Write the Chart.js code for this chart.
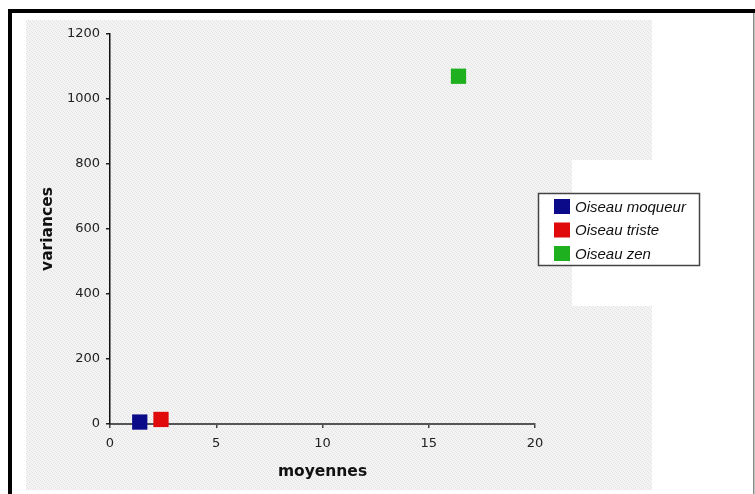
<!DOCTYPE html>
<html>
<head>
<meta charset="utf-8">
<script src="https://cdn.jsdelivr.net/npm/chart.js@4/dist/chart.umd.min.js"></script>
<style>
  html, body { margin: 0; padding: 0; background: #fff; }
  #wrap { position: absolute; left: 0; top: 0; width: 755px; height: 494px; }
</style>
</head>
<body>
<div id="wrap"><canvas id="birdChart" width="755" height="494"></canvas></div>
<script>
document.addEventListener("DOMContentLoaded", function() {

    // ---------- data ----------
    var birdNames = ['Oiseau moqueur', 'Oiseau triste', 'Oiseau zen'];
    var moyennes  = [1.4, 2.4, 16.4];
    var variances = [6, 14, 1070];
    var birdColors = ['#0b0b8a', '#e00a0a', '#1eb01e'];
    var xTicks = [0, 5, 10, 15, 20];
    var yTicks = [0, 200, 400, 600, 800, 1000, 1200];

    // dithered grey like the old screenshot
    var pat = document.createElement('canvas');
    pat.width = 4; pat.height = 4;
    var pctx = pat.getContext('2d');
    pctx.fillStyle = '#f4f4f4';
    pctx.fillRect(0, 0, 4, 4);
    pctx.fillStyle = '#e2e2e2';
    [[0,0],[2,1],[1,2],[3,3]].forEach(function(p){ pctx.fillRect(p[0], p[1], 1, 1); });

    var backdrop = {
        id: 'backdrop',
        beforeDraw: function(chart) {
            var ctx = chart.ctx;
            ctx.save();
            ctx.fillStyle = '#fff';
            ctx.fillRect(0, 0, 755, 494);
            // outer frame
            ctx.fillStyle = '#000';
            ctx.fillRect(8, 9, 747, 4);
            ctx.fillRect(8, 9, 4, 485);
            ctx.fillStyle = '#888';
            ctx.fillRect(753, 13, 1.5, 481);
            // grey plot backdrop with white notch for legend
            ctx.fillStyle = ctx.createPattern(pat, 'repeat');
            ctx.fillRect(26, 20, 626, 470);
            ctx.fillStyle = '#fff';
            ctx.fillRect(572, 160, 81, 146);
            ctx.restore();
        },
        afterDraw: function(chart) {
            var ctx = chart.ctx;
            ctx.save();
            // legend box
            ctx.fillStyle = '#fff';
            ctx.fillRect(538, 193, 162, 73);
            ctx.strokeStyle = '#444';
            ctx.lineWidth = 1.5;
            ctx.strokeRect(538.5, 193.5, 161, 72);
            ctx.font = 'italic 15px "Liberation Sans", Arial, sans-serif';
            ctx.textBaseline = 'middle';
            birdNames.forEach(function(name, i) {
                var cy = 206.5 + i * 23.5;
                ctx.fillStyle = birdColors[i];
                ctx.fillRect(554, cy - 7.5, 16, 15);
                ctx.fillStyle = '#111';
                ctx.fillText(name, 575, cy + 1);
            });
            ctx.restore();
        }
    };

    var datasets = birdNames.map(function(name, i) {
        return {
            label: name,
            data: [{x: moyennes[i], y: variances[i]}],
            backgroundColor: birdColors[i],
            borderWidth: 0,
            pointStyle: 'rect',
            pointRadius: 10.8,
            pointHoverRadius: 10.8,
            clip: false
        };
    });

    var tickFont = {family: '"DejaVu Sans", sans-serif', size: 13};
    var titleFont = {family: '"DejaVu Sans", sans-serif', size: 15.5, weight: 'bold'};
    var plainNumber = function(v){ return String(v); };

    new Chart(document.getElementById('birdChart').getContext('2d'), {
        type: 'scatter',
        data: {datasets: datasets},
        plugins: [backdrop],
        options: {
            responsive: false,
            animation: false,
            layout: {padding: {left: 0, top: 34, right: 220, bottom: 0}},
            plugins: {
                legend: {display: false},
                tooltip: {enabled: false}
            },
            scales: {
                x: {
                    type: 'linear',
                    min: 0, max: 20,
                    afterBuildTicks: function(s){ s.ticks = xTicks.map(function(v){ return {value: v}; }); },
                    afterFit: function(s){ s.height = 70; },
                    ticks: {color: '#222', font: tickFont, padding: 8, maxRotation: 0, callback: plainNumber},
                    grid: {drawOnChartArea: false, drawTicks: true, tickLength: 4, color: '#444', lineWidth: 1.5},
                    border: {color: '#555', width: 2},
                    title: {display: true, text: 'moyennes', color: '#111', font: titleFont, padding: {top: 0, bottom: 13}}
                },
                y: {
                    type: 'linear',
                    min: 0, max: 1200,
                    afterBuildTicks: function(s){ s.ticks = yTicks.map(function(v){ return {value: v}; }); },
                    afterFit: function(s){ s.width = 110; },
                    ticks: {color: '#222', font: tickFont, padding: 6, callback: plainNumber},
                    grid: {drawOnChartArea: false, drawTicks: true, tickLength: 4, color: '#222', lineWidth: 1.5},
                    border: {color: '#111', width: 1.5},
                    title: {display: true, text: 'variances', color: '#111', font: titleFont, padding: {top: 39, bottom: 0}}
                }
            }
        }
    });
});
</script>
</body>
</html>
